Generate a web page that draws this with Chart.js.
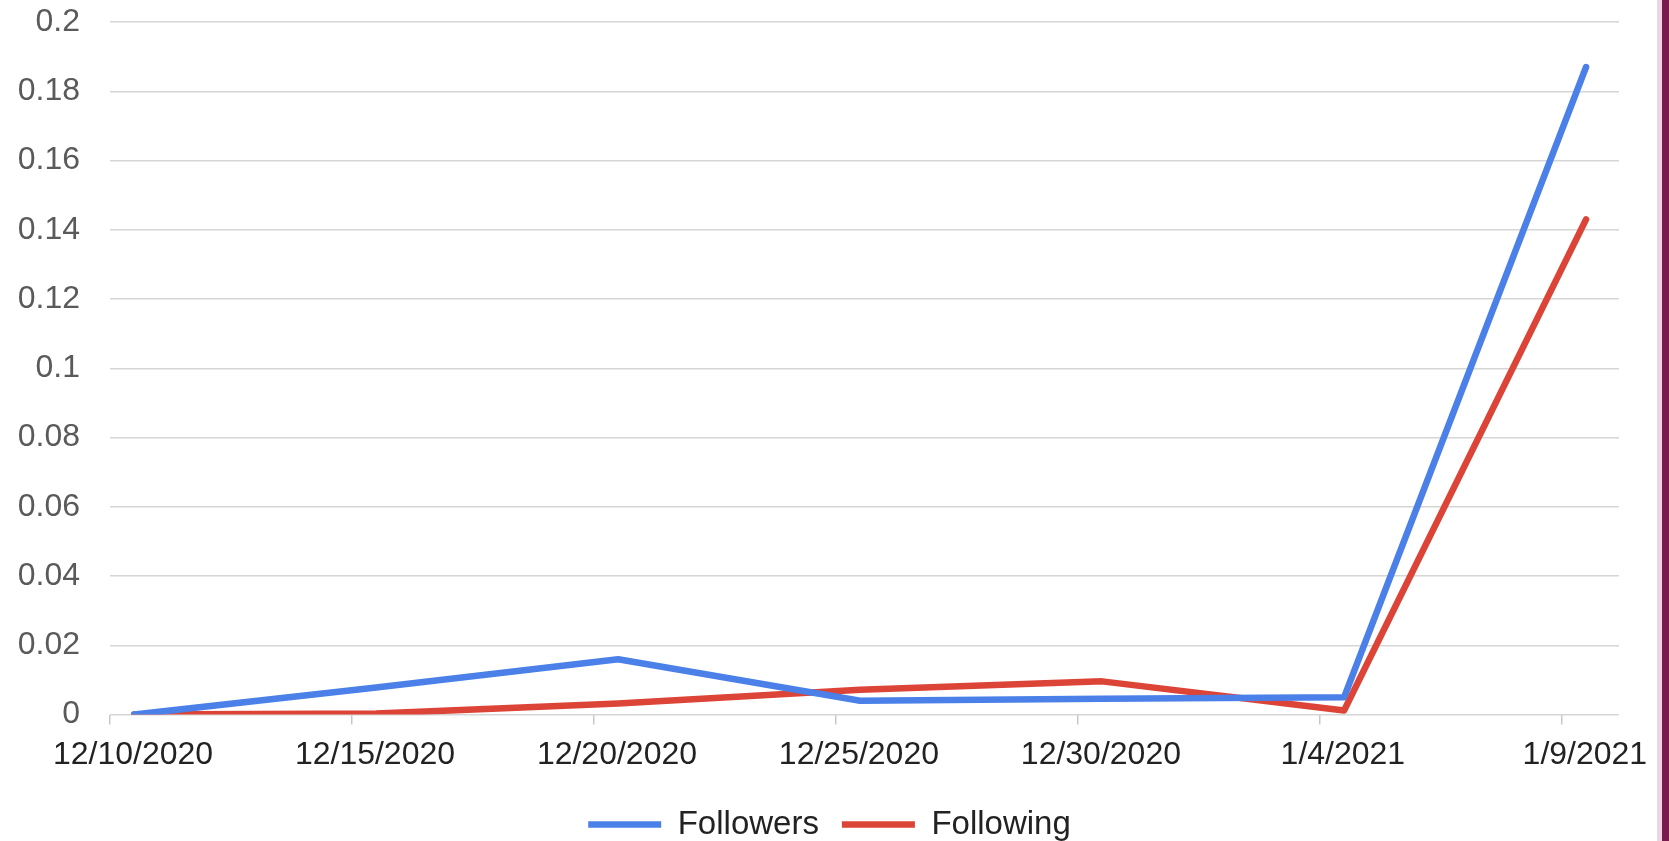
<!DOCTYPE html>
<html>
<head>
<meta charset="utf-8">
<script src="https://cdn.jsdelivr.net/npm/chart.js@4"></script>
<style>
  html, body { margin: 0; padding: 0; background: #ffffff; overflow: hidden; }
  #wrap { position: relative; width: 1669px; height: 841px; }
  #edge { position: absolute; top: 0; right: 0; width: 7px; height: 841px; background: #7a1a4e; border-left: 5px solid #ecd6e1; }
</style>
</head>
<body>
<div id="wrap">
  <canvas id="c" width="1669" height="841"></canvas>
  <div id="edge"></div>
</div>
<script>
// ---- data ----
const sampleDates = ['2020-12-10T12:00', '2020-12-15T12:00', '2020-12-20T12:00', '2020-12-25T12:00', '2020-12-30T12:00', '2021-01-04T12:00', '2021-01-09T12:00'];
const followers = [0, 0.0078, 0.016, 0.004, 0.0046, 0.005, 0.187];
const following = [0, 0.0003, 0.0032, 0.0072, 0.0096, 0.0012, 0.143];
const tickDates = ['2020-12-10', '2020-12-15', '2020-12-20', '2020-12-25', '2020-12-30', '2021-01-04', '2021-01-09'];
const tickLabels = ['12/10/2020', '12/15/2020', '12/20/2020', '12/25/2020', '12/30/2020', '1/4/2021', '1/9/2021'];
const axisStart = '2020-12-10T00:00';
const axisEnd = '2021-01-10T04:20';
const yMin = 0, yMax = 0.2, yStep = 0.02;

// day offsets from axis start
function toMs(s) {
  const [d, t] = s.split('T');
  const [Y, M, D] = d.split('-').map(Number);
  const [h, m] = (t || '00:00').split(':').map(Number);
  return Date.UTC(Y, M - 1, D, h, m);
}
const DAY = 86400000;
const dayOf = s => (toMs(s) - toMs(axisStart)) / DAY;
const xs = sampleDates.map(dayOf);
const tickDays = tickDates.map(dayOf);

const FONT = "'Liberation Sans', Arial, sans-serif";

// let the y-axis labels use the free margin on the left of the axis box
const widenYLabelArea = {
  id: 'widenYLabelArea',
  afterLayout(chart) { chart.scales.y.left = 0; }
};

new Chart(document.getElementById('c'), {
  type: 'line',
  plugins: [widenYLabelArea],
  data: {
    datasets: [
      {
        label: 'Followers',
        data: xs.map((x, i) => ({ x, y: followers[i] })),
        borderColor: '#4a80e8',
        backgroundColor: '#4a80e8',
        borderWidth: 6.5,
        borderCapStyle: 'round',
        borderJoinStyle: 'round',
        pointRadius: 0,
        tension: 0
      },
      {
        label: 'Following',
        data: xs.map((x, i) => ({ x, y: following[i] })),
        borderColor: '#dc4437',
        backgroundColor: '#dc4437',
        borderWidth: 6.5,
        borderCapStyle: 'round',
        borderJoinStyle: 'round',
        pointRadius: 0,
        tension: 0
      }
    ]
  },
  options: {
    responsive: false,
    devicePixelRatio: 1,
    animation: false,
    layout: { padding: { left: 40, right: 50, top: 22, bottom: -10 } },
    plugins: {
      tooltip: { enabled: false },
      legend: {
        position: 'bottom',
        labels: {
          usePointStyle: true,
          pointStyle: 'line',
          pointStyleWidth: 73,
          padding: 23,
          color: '#222222',
          font: { family: FONT, size: 33 }
        }
      }
    },
    scales: {
      x: {
        type: 'linear',
        min: 0,
        max: dayOf(axisEnd),
        afterBuildTicks: s => { s.ticks = tickDays.map(v => ({ value: v })); },
        afterFit: s => { s.paddingLeft = 0; s.paddingRight = 0; },
        grid: { drawOnChartArea: false, drawTicks: true, tickLength: 10, color: '#c8c8c8', lineWidth: 1.5 },
        border: { display: false },
        ticks: {
          autoSkip: false,
          maxRotation: 0,
          minRotation: 0,
          padding: 11,
          labelOffset: 23,
          color: '#222222',
          font: { family: FONT, size: 32 },
          callback: (v, i) => tickLabels[i]
        }
      },
      y: {
        min: yMin,
        max: yMax,
        afterFit: s => { s.width = 70; s.paddingTop = 0; s.paddingBottom = 0; },
        grid: { drawTicks: true, tickLength: 30, tickColor: 'rgba(0,0,0,0)', color: '#d6d6d6', lineWidth: 1.5 },
        border: { display: false },
        ticks: {
          stepSize: yStep,
          padding: 0,
          color: '#5a5a5a',
          font: { family: FONT, size: 32 },
          callback: v => String(Number(v.toFixed(2)))
        }
      }
    }
  }
});
</script>
</body>
</html>
